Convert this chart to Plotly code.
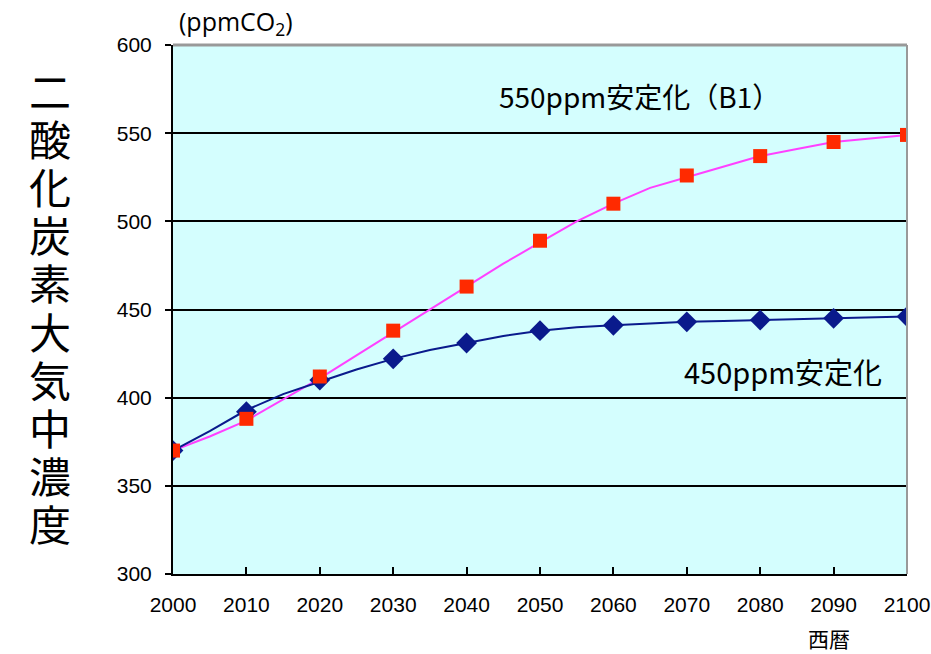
import plotly.graph_objects as go

# CO2 concentration scenarios (ppm), decade markers
years = [2000, 2010, 2020, 2030, 2040, 2050, 2060, 2070, 2080, 2090, 2100]
b1_550 = [370, 388, 412, 438, 463, 489, 510, 526, 537, 545, 549]
stab_450 = [370, 392, 410, 422, 431, 438, 441, 443, 444, 445, 446]

# five-year path of each scenario
years_5 = [2000, 2005, 2010, 2015, 2020, 2025, 2030, 2035, 2040, 2045, 2050,
           2055, 2060, 2065, 2070, 2075, 2080, 2085, 2090, 2095, 2100]
b1_550_path = [370, 378, 387, 399, 411, 424, 437, 450, 463, 476, 488,
               500, 510, 519, 525, 531, 537, 541, 545, 547, 549]
stab_450_path = [370, 381, 393, 402, 409, 416, 422, 427, 431, 435, 438,
                 440, 441, 442, 443, 443.5, 444, 444.5, 445, 445.5, 446]

y_ticks = [300, 350, 400, 450, 500, 550, 600]
x_ticks = years
title_chars = list("二酸化炭素大気中濃度")

RED_LINE = "#FF40FF"
RED_MARK = "#FF2A00"
BLUE = "#0A1A8C"
JP = "Noto Sans CJK JP"
TICK_FONT = dict(family="Liberation Sans, Arial", size=21, color="black")

fig = go.Figure()
fig.add_trace(go.Scatter(x=years_5, y=b1_550_path, mode="lines",
                         line=dict(color=RED_LINE, width=2), hoverinfo="skip"))
fig.add_trace(go.Scatter(x=years_5, y=stab_450_path, mode="lines",
                         line=dict(color=BLUE, width=2), hoverinfo="skip"))
fig.add_trace(go.Scatter(x=years, y=stab_450, mode="markers",
                         marker=dict(symbol="diamond", size=16, color=BLUE)))
fig.add_trace(go.Scatter(x=years, y=b1_550, mode="markers",
                         marker=dict(symbol="square", size=14, color=RED_MARK)))

# vertical axis title, one character per row
annotations = []
for i, ch in enumerate(title_chars):
    annotations.append(dict(
        text=ch, xref="paper", yref="paper", x=-0.168, y=1.0,
        xanchor="center", yanchor="middle", yshift=-(89 - 45) - 48.2 * i,
        showarrow=False,
        font=dict(family=JP, size=42, color="black")))

annotations += [
    dict(text="(ppmCO<sub>2</sub>)", xref="paper", yref="paper",
         x=0.005, y=1.0, xanchor="left", yanchor="bottom", yshift=2,
         showarrow=False,
         font=dict(family="Open Sans, Noto Sans", size=25, color="black")),
    dict(text="西暦", xref="paper", yref="paper", x=0.894, y=0,
         xanchor="center", yanchor="top", yshift=-47, showarrow=False,
         font=dict(family=JP, size=21, color="black")),
    dict(text="550ppm安定化（B1）", x=2044.1, y=571, xanchor="left",
         yanchor="middle", showarrow=False,
         font=dict(family=JP, size=28, color="black")),
    dict(text="450ppm安定化", x=2069.4, y=415, xanchor="left",
         yanchor="middle", showarrow=False,
         font=dict(family=JP, size=29, color="black")),
]

fig.update_layout(
    width=931, height=654,
    margin=dict(l=173, r=24, t=45, b=80, autoexpand=False),
    paper_bgcolor="white",
    plot_bgcolor="#D4FEFE",
    showlegend=False,
    xaxis=dict(range=[2000, 2100], tickvals=x_ticks, ticks="inside", ticklen=7,
               tickcolor="black", tickwidth=1.5, showgrid=False, zeroline=False,
               showline=True, linecolor="black", linewidth=2, automargin=False,
               ticklabelstandoff=11, tickfont=TICK_FONT),
    yaxis=dict(range=[300, 600], tickvals=y_ticks, ticks="outside", ticklen=6,
               tickcolor="black", tickwidth=1.5, showgrid=True,
               gridcolor="black", gridwidth=2, zeroline=False,
               showline=True, linecolor="black", linewidth=2, automargin=False,
               ticklabelstandoff=9, tickfont=TICK_FONT),
    shapes=[
        dict(type="line", xref="paper", yref="paper", x0=0, x1=1, y0=1, y1=1,
             line=dict(color="#999999", width=3)),
        dict(type="line", xref="paper", yref="paper", x0=1, x1=1, y0=0, y1=1,
             line=dict(color="#999999", width=2)),
    ],
    annotations=annotations,
)

fig.write_html("out.html")
